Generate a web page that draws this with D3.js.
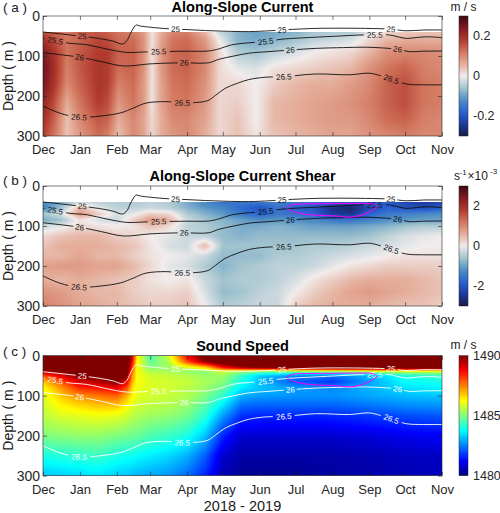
<!DOCTYPE html>
<html>
<head>
<meta charset="utf-8">
<script src="https://cdn.jsdelivr.net/npm/d3@7"></script>
<style>
  body { margin: 0; background: #fff; }
  svg text { font-family: "Liberation Sans", Arial, Helvetica, sans-serif; fill: #1a1a1a; }
</style>
</head>
<body>
<div id="chart"></div>
<script>
const W = 500, H = 513;
const left = 43, right = 442, plotH = 120;

// ---- data ----
const monthLabels = ["Dec", "Jan", "Feb", "Mar", "Apr", "May", "Jun", "Jul", "Aug", "Sep", "Oct", "Nov"];
const depthTicks = [0, 100, 200, 300];
// times are month numbers counted from 1 Dec 2018
const currentTimes = [0, 0.3, 0.65, 1, 1.5, 1.75, 2.05, 2.5, 2.8, 3.05, 3.3, 3.6, 4, 4.5, 4.9, 5.4, 5.9, 6.4, 7, 7.5, 8, 8.5, 9, 9.5, 10, 10.5, 11];
const currentDepths = [40, 60, 90, 130, 170, 220, 260, 300];
// one depth profile (m/s) per time
const currentCols = [
  [0.16, 0.20, 0.24, 0.26, 0.25, 0.22, 0.20, 0.18],
  [0.14, 0.16, 0.19, 0.20, 0.19, 0.16, 0.14, 0.12],
  [0.11, 0.12, 0.12, 0.11, 0.10, 0.06, 0.04, 0.04],
  [0.14, 0.14, 0.15, 0.15, 0.14, 0.12, 0.10, 0.08],
  [0.15, 0.17, 0.18, 0.19, 0.19, 0.18, 0.15, 0.13],
  [0.14, 0.16, 0.18, 0.18, 0.18, 0.16, 0.14, 0.11],
  [0.12, 0.13, 0.14, 0.13, 0.11, 0.08, 0.06, 0.04],
  [0.11, 0.13, 0.14, 0.14, 0.13, 0.12, 0.10, 0.10],
  [0.08, 0.09, 0.09, 0.09, 0.08, 0.08, 0.07, 0.07],
  [0.01, 0.01, 0.01, 0.01, 0.01, 0.01, 0.02, 0.02],
  [0.06, 0.07, 0.08, 0.08, 0.07, 0.07, 0.06, 0.06],
  [0.10, 0.12, 0.13, 0.13, 0.12, 0.11, 0.10, 0.08],
  [0.11, 0.13, 0.14, 0.14, 0.13, 0.12, 0.10, 0.10],
  [0.05, 0.08, 0.10, 0.10, 0.09, 0.08, 0.07, 0.06],
  [-0.03, 0.00, 0.02, 0.02, 0.02, 0.02, 0.02, 0.02],
  [-0.08, -0.08, -0.05, -0.01, 0.02, 0.03, 0.04, 0.04],
  [-0.10, -0.09, -0.06, -0.02, 0.00, 0.00, 0.00, 0.01],
  [-0.09, -0.08, -0.04, 0.01, 0.03, 0.05, 0.05, 0.04],
  [-0.08, -0.06, -0.02, 0.02, 0.05, 0.06, 0.06, 0.05],
  [-0.06, -0.04, 0.00, 0.03, 0.06, 0.07, 0.07, 0.06],
  [-0.05, -0.03, 0.01, 0.04, 0.06, 0.08, 0.08, 0.07],
  [-0.05, -0.02, 0.02, 0.05, 0.08, 0.09, 0.08, 0.07],
  [-0.02, 0.02, 0.05, 0.09, 0.10, 0.11, 0.10, 0.09],
  [0.02, 0.05, 0.09, 0.12, 0.14, 0.14, 0.13, 0.10],
  [0.03, 0.06, 0.10, 0.14, 0.16, 0.16, 0.14, 0.11],
  [0.04, 0.06, 0.10, 0.11, 0.12, 0.12, 0.11, 0.10],
  [0.04, 0.06, 0.09, 0.10, 0.11, 0.11, 0.10, 0.10]
];

const shearTimes = [0, 0.5, 1, 1.5, 2, 2.5, 3, 3.5, 4, 4.5, 5, 5.5, 6, 6.5, 7, 7.5, 8, 8.5, 9, 9.5, 10, 10.5, 11];
const shearDepths = [40, 55, 70, 85, 100, 125, 150, 175, 200, 235, 265, 300];
// one profile (x 10^-3 s^-1) per time
const shearCols = [
  [-1.2, -1.4, -0.6, -0.9, -0.3, 0.2, 0.4, 0.5, 0.7, 0.6, 0.9, 1.1],
  [-0.8, -0.6, -0.2, -0.6, -0.1, 0.4, 0.6, 0.5, 0.8, 0.5, 0.8, 0.9],
  [-0.3, 0.5, 0.8, 0.1, 0.2, 0.5, 0.6, 0.7, 0.8, 0.6, 0.6, 0.7],
  [-0.4, -0.1, 0.3, -0.2, 0.1, 0.5, 0.6, 0.5, 0.7, 0.5, 0.5, 0.6],
  [-0.5, -0.4, -0.2, -0.3, 0.0, 0.3, 0.5, 0.5, 0.7, 0.4, 0.5, 0.5],
  [-0.5, -0.4, -0.1, 0.3, 0.1, 0.2, 0.4, 0.3, 0.5, 0.3, 0.3, 0.4],
  [-0.4, -0.3, 0.3, 0.8, 0.4, 0.0, 0.1, 0.1, 0.2, 0.1, 0.2, 0.3],
  [-0.5, -0.4, 0.2, 0.6, 0.2, -0.1, -0.2, 0.0, -0.1, 0.0, 0.2, 0.3],
  [-0.9, -0.8, -0.5, -0.3, -0.4, -0.3, -0.3, -0.1, -0.2, 0.1, 0.3, 0.4],
  [-1.3, -1.1, -0.8, -0.6, -0.5, -0.4, 0.5, -0.3, -0.5, -0.3, -0.2, 0.0],
  [-1.6, -1.3, -1.1, -0.8, -0.7, -0.7, -0.6, -0.7, -0.8, -0.6, -0.7, -0.5],
  [-1.5, -1.7, -1.5, -1.0, -0.9, -0.8, -0.6, -0.7, -0.6, -0.5, -0.6, -0.4],
  [-1.5, -2.0, -1.8, -1.2, -0.9, -0.7, -0.6, -0.7, -0.5, -0.5, -0.4, -0.3],
  [-1.4, -1.6, -1.5, -1.1, -0.8, -0.7, -0.6, -0.5, -0.4, -0.4, -0.3, -0.3],
  [-1.5, -1.8, -1.6, -1.2, -0.9, -0.7, -0.6, -0.5, -0.4, -0.2, 0.0, 0.3],
  [-1.6, -2.0, -1.8, -1.3, -1.0, -0.7, -0.5, -0.4, -0.3, 0.1, 0.3, 0.5],
  [-1.8, -2.6, -2.4, -1.5, -1.0, -0.7, -0.5, -0.3, -0.1, 0.3, 0.5, 0.6],
  [-1.9, -2.8, -2.5, -1.6, -1.0, -0.7, -0.4, -0.2, 0.1, 0.5, 0.7, 0.6],
  [-1.8, -2.2, -1.8, -1.4, -0.9, -0.6, -0.3, -0.1, 0.2, 0.6, 0.8, 0.6],
  [-1.9, -1.8, -1.5, -1.2, -0.8, -0.4, -0.2, 0.0, 0.3, 0.6, 0.7, 0.5],
  [-2.2, -2.0, -1.4, -1.1, -0.6, -0.2, -0.1, 0.1, 0.3, 0.6, 0.6, 0.4],
  [-2.4, -2.1, -1.3, -1.0, -0.5, -0.1, 0.0, 0.1, 0.3, 0.5, 0.5, 0.4],
  [-2.2, -1.9, -1.2, -1.0, -0.5, 0.0, 0.0, 0.1, 0.3, 0.4, 0.4, 0.3]
];

const soundTimes = [0, 0.5, 1, 1.5, 2, 2.3, 2.45, 2.6, 3, 3.5, 4, 4.5, 5, 5.5, 6, 7, 8, 9, 10, 11];
const soundDepths = [0, 15, 30, 40, 50, 65, 80, 100, 125, 150, 200, 250, 300];
// one profile (m/s) per time
const soundCols = [
  [1491, 1491, 1490.5, 1489.5, 1488, 1486.8, 1486.2, 1485.9, 1485.8, 1485.6, 1485.0, 1484.0, 1483.2],
  [1491, 1491, 1490.8, 1490, 1489, 1488, 1487.3, 1486.8, 1486.3, 1485.9, 1485.1, 1484.1, 1483.3],
  [1491, 1491, 1491, 1490.5, 1490, 1489.2, 1488.4, 1487.4, 1486.6, 1486, 1485.2, 1484.2, 1483.4],
  [1491, 1491, 1491, 1490.8, 1490.2, 1489.5, 1488.6, 1487.6, 1486.8, 1486.1, 1485.2, 1484.3, 1483.5],
  [1491, 1491, 1491, 1491, 1490.8, 1490, 1489, 1487.8, 1486.8, 1486, 1485, 1484, 1483.3],
  [1491, 1491, 1490.8, 1490.5, 1490, 1489, 1488, 1487, 1486.3, 1485.8, 1484.9, 1483.9, 1483.2],
  [1489.5, 1489, 1488.3, 1487.8, 1487.5, 1487.1, 1486.7, 1486.4, 1486, 1485.6, 1484.8, 1483.9, 1483.1],
  [1486.5, 1486.3, 1486.2, 1486.2, 1486.2, 1486.2, 1486.1, 1486, 1485.8, 1485.5, 1484.8, 1483.8, 1483],
  [1484.5, 1484.7, 1485.1, 1485.5, 1485.8, 1485.9, 1485.9, 1485.8, 1485.6, 1485.3, 1484.5, 1483.6, 1482.9],
  [1485.8, 1485.5, 1485.3, 1485.4, 1485.7, 1485.8, 1485.8, 1485.7, 1485.5, 1485.2, 1484.3, 1483.4, 1482.7],
  [1488.8, 1488, 1485.8, 1485.2, 1485.5, 1485.7, 1485.6, 1485.5, 1485.2, 1484.9, 1484, 1483, 1482.3],
  [1490.5, 1489.8, 1486.5, 1485, 1485.3, 1485.4, 1485.3, 1485, 1484.6, 1484.2, 1483.2, 1482.2, 1481.6],
  [1491, 1491, 1488.5, 1485.8, 1485.3, 1485.1, 1484.8, 1484.2, 1483.5, 1482.8, 1481.6, 1480.8, 1480.5],
  [1491, 1491, 1489.5, 1485.2, 1484.3, 1484, 1483.6, 1483, 1482.3, 1481.7, 1480.8, 1480.4, 1480.2],
  [1491, 1491, 1490, 1484.8, 1483.3, 1483.1, 1483.2, 1482.8, 1482.2, 1481.6, 1480.8, 1480.4, 1480.2],
  [1491, 1491, 1490.3, 1484.8, 1482.6, 1482.1, 1482.8, 1482.7, 1482.2, 1481.6, 1480.8, 1480.4, 1480.2],
  [1491, 1491, 1490.5, 1485, 1482.4, 1481.8, 1482.6, 1482.7, 1482.2, 1481.6, 1480.8, 1480.4, 1480.3],
  [1491, 1491, 1490.5, 1485.3, 1483.1, 1482.8, 1483, 1482.9, 1482.4, 1481.8, 1480.9, 1480.5, 1480.4],
  [1491, 1491, 1490.5, 1485.6, 1484, 1483.8, 1483.5, 1483.1, 1482.6, 1482, 1481.1, 1480.6, 1480.5],
  [1491, 1491, 1490.5, 1485.6, 1484.3, 1484, 1483.7, 1483.2, 1482.7, 1482.1, 1481.2, 1480.7, 1480.6]
];

// isopycnal depths [month, depth m]
const iso25 = [[0,40],[0.5,45],[1,50],[1.5,56],[1.9,63],[2.17,70],[2.3,62],[2.4,45],[2.5,30],[2.58,22.5],[2.7,25],[3,28],[3.5,32],[4,34],[4.7,37],[5.7,39],[6.26,37],[6.6,35],[7.55,31],[8.9,31],[9.6,33],[10.03,37],[10.5,35],[11,35]];
const iso255 = [[0,56],[0.35,62],[0.7,68],[1.2,72],[1.7,82],[2.3,91],[2.8,90],[3.2,89],[4,88],[4.6,87.5],[4.9,82],[5.24,72],[5.7,67],[6.17,64],[6.62,58],[7.54,53],[8.2,50],[8.74,47.5],[9.15,47.5],[9.57,47.5],[9.8,52],[10.03,56],[10.3,54],[10.58,52],[11,54]];
const iso26 = [[0,92],[0.5,97],[0.99,103],[1.58,114],[2.2,125],[2.94,120],[3.4,118],[3.92,117],[4.6,117],[4.9,108],[5.3,100],[5.7,93],[6.26,89],[6.86,85],[7.54,81],[8.3,79],[8.9,78],[9.4,80],[9.79,83],[10.1,89],[10.5,88],[11,87.5]];
const iso265 = [[0,225],[0.46,243],[0.97,253],[1.57,250],[2.12,242],[2.5,230],[2.86,218],[3.41,214],[3.87,217],[4.56,212],[4.8,198],[5.06,181],[5.4,168],[5.7,159],[6.17,153],[6.67,152],[7.54,145],[8.46,147],[9.0,143],[9.3,149],[9.61,158],[10.03,170],[10.5,172],[11,172]];
const densityLevels = [25, 25.5, 26, 26.5];
const labelMonths = [[1.07, 3.69, 6.62, 9.61], [0.33, 3.23, 6.17, 9.15], [0.99, 3.92, 6.86, 9.79], [0.97, 3.87, 6.67, 9.61]];
// closed magenta contour (strong shear core)
const shearCore = [[6.76,54],[6.9,47],[7.4,44.5],[8,44],[8.7,43.5],[9.1,45],[9.2,52],[9.05,62],[8.75,74],[8.45,78],[8.1,75],[7.4,72],[6.95,64]];

// ---- helpers ----
const start = new Date(Date.UTC(2018, 11, 1));
const end = new Date(Date.UTC(2019, 10, 1));
function monthToDate(t) {
  const m = Math.floor(t);
  const a = d3.utcMonth.offset(start, m), b = d3.utcMonth.offset(start, m + 1);
  return new Date(+a + (t - m) * (b - a));
}
function dateToMonth(d) {
  const a = d3.utcMonth.floor(d);
  const m = d3.utcMonth.count(start, a);
  const b = d3.utcMonth.offset(a, 1);
  return m + (d - a) / (b - a);
}
function sampler(times, depths, cols) {
  return (t, d) => {
    let i = Math.max(0, Math.min(times.length - 2, d3.bisectRight(times, t) - 1));
    let j = Math.max(0, Math.min(depths.length - 2, d3.bisectRight(depths, d) - 1));
    const ft = Math.max(0, Math.min(1, (t - times[i]) / (times[i + 1] - times[i])));
    const fd = Math.max(0, Math.min(1, (d - depths[j]) / (depths[j + 1] - depths[j])));
    const a = cols[i][j] * (1 - fd) + cols[i][j + 1] * fd;
    const b = cols[i + 1][j] * (1 - fd) + cols[i + 1][j + 1] * fd;
    return a * (1 - ft) + b * ft;
  };
}

const balanceColors = ["#181c43", "#1c3a9c", "#2a62d0", "#4f8fc4", "#a3c4cf", "#f1ecec", "#e4ad9a", "#d2765e", "#b23b2e", "#801a22", "#3c0912"];
function balance(lo, hi) {
  return d3.scaleLinear().domain(d3.range(11).map(i => lo + (hi - lo) * i / 10)).range(balanceColors).clamp(true);
}
function jet(lo, hi) {
  const f = [0, 0.125, 0.375, 0.625, 0.875, 1];
  return d3.scaleLinear().domain(f.map(v => lo + (hi - lo) * v))
    .range(["#000080", "#0000ff", "#00ffff", "#ffff00", "#ff0000", "#800000"]).clamp(true);
}

const svg = d3.select("#chart").append("svg").attr("width", W).attr("height", H);
const x = d3.scaleUtc().domain([start, end]).range([left, right]);
const monthDates = d3.range(12).map(i => d3.utcMonth.offset(start, i));

const panels = [
  { key: "a", top: 16, title: "Along-Slope Current", times: currentTimes, depths: currentDepths, cols: currentCols,
    color: balance(-0.3, 0.3), cticks: [-0.2, 0, 0.2], cdom: [-0.3, 0.3], lineColor: "#111", core: false, lab: 12 },
  { key: "b", top: 186, title: "Along-Slope Current Shear", times: shearTimes, depths: shearDepths, cols: shearCols,
    color: balance(-3, 3), cticks: [-2, 0, 2], cdom: [-3, 3], lineColor: "#111", core: true, lab: 185 },
  { key: "c", top: 355.7, title: "Sound Speed", times: soundTimes, depths: soundDepths, cols: soundCols,
    color: jet(1480, 1490), cticks: [1480, 1485, 1490], cdom: [1480, 1490], lineColor: "#fff", core: true, lab: 356 }
];
const isopycnals = [iso25, iso255, iso26, iso265];
const axisCol = "#262626";

panels.forEach(p => {
  const y = d3.scaleLinear().domain([0, 300]).range([p.top, p.top + plotH]);
  const g = svg.append("g");

  // heat map drawn pixel by pixel from the grid
  const cw = right - left, ch = plotH;
  const canvas = document.createElement("canvas");
  canvas.width = cw; canvas.height = ch;
  const ctx = canvas.getContext("2d");
  const img = ctx.createImageData(cw, ch);
  const f = sampler(p.times, p.depths, p.cols);
  const tcol = d3.range(cw).map(px => dateToMonth(x.invert(left + px + 0.5)));
  for (let py = 0; py < ch; py++) {
    const d = y.invert(p.top + py + 0.5);
    if (d < p.depths[0] - 0.5) continue;
    for (let px = 0; px < cw; px++) {
      const c = d3.rgb(p.color(f(tcol[px], d)));
      const k = (py * cw + px) * 4;
      img.data[k] = c.r; img.data[k + 1] = c.g; img.data[k + 2] = c.b; img.data[k + 3] = 255;
    }
  }
  ctx.putImageData(img, 0, 0);
  g.append("image").attr("href", canvas.toDataURL()).attr("x", left).attr("y", p.top)
    .attr("width", cw).attr("height", ch).attr("preserveAspectRatio", "none");

  // contours with gaps for labels
  const line = d3.line().x(q => x(monthToDate(q[0]))).y(q => y(q[1])).curve(d3.curveCatmullRom.alpha(0.5));
  const maskId = "mask-" + p.key;
  const mask = svg.append("defs").append("mask").attr("id", maskId).attr("maskUnits", "userSpaceOnUse")
    .attr("x", 0).attr("y", 0).attr("width", W).attr("height", H);
  mask.append("rect").attr("width", W).attr("height", H).attr("fill", "white");
  const lines = g.append("g").attr("mask", `url(#${maskId})`);
  const labels = g.append("g");
  isopycnals.forEach((iso, li) => {
    const path = lines.append("path").attr("d", line(iso)).attr("fill", "none")
      .attr("stroke", p.lineColor).attr("stroke-width", 0.9);
    const node = path.node(), L = node.getTotalLength();
    labelMonths[li].forEach(t => {
      const tx = x(monthToDate(t));
      let best = 0, bd = 1e9;
      for (let s = 0; s <= L; s += 0.5) {
        const q = node.getPointAtLength(s);
        const dd = Math.abs(q.x - tx);
        if (dd < bd) { bd = dd; best = s; }
      }
      const q = node.getPointAtLength(best);
      const q1 = node.getPointAtLength(Math.max(0, best - 5)), q2 = node.getPointAtLength(Math.min(L, best + 5));
      const ang = Math.atan2(q2.y - q1.y, q2.x - q1.x) * 180 / Math.PI;
      const txt = String(densityLevels[li]);
      const tw = txt.length * 4.5 + 4;
      const tr = `translate(${q.x},${q.y}) rotate(${ang})`;
      mask.append("rect").attr("x", -tw / 2).attr("y", -4.5).attr("width", tw).attr("height", 9)
        .attr("fill", "black").attr("transform", tr);
      labels.append("text").attr("transform", tr).attr("text-anchor", "middle").attr("dy", "0.35em")
        .style("font-size", "8px").style("fill", p.lineColor).text(txt);
    });
  });
  if (p.core) {
    g.append("path").attr("d", d3.line().x(q => x(monthToDate(q[0]))).y(q => y(q[1])).curve(d3.curveCatmullRomClosed)(shearCore))
      .attr("fill", "none").attr("stroke", "#ff00ff").attr("stroke-width", 1);
  }

  // axes with inward ticks
  const xb = g.append("g").attr("transform", `translate(0,${p.top + plotH})`)
    .call(d3.axisBottom(x).tickValues(monthDates).tickFormat((d, i) => monthLabels[i]).tickSize(-4).tickPadding(9));
  const xt = g.append("g").attr("transform", `translate(0,${p.top})`)
    .call(d3.axisTop(x).tickValues(monthDates).tickFormat("").tickSize(-4));
  const yl = g.append("g").attr("transform", `translate(${left},0)`)
    .call(d3.axisLeft(y).tickValues(depthTicks).tickSize(-4).tickPadding(3));
  const yr = g.append("g").attr("transform", `translate(${right},0)`)
    .call(d3.axisRight(y).tickValues(depthTicks).tickFormat("").tickSize(-4));
  [xb, xt, yl, yr].forEach(a => {
    a.select(".domain").remove();
    a.selectAll("line").attr("stroke", axisCol).attr("stroke-width", 0.6);
    a.selectAll("text").style("font-size", "13px").style("fill", axisCol).attr("font-family", null);
  });
  yl.selectAll("text").style("font-size", "14px");
  g.append("rect").attr("x", left).attr("y", p.top).attr("width", right - left).attr("height", plotH)
    .attr("fill", "none").attr("stroke", axisCol).attr("stroke-width", 0.6);

  // titles and labels
  svg.append("text").attr("x", (left + right) / 2).attr("y", Math.max(11.5, p.top - 5.2)).attr("text-anchor", "middle")
    .style("font-size", "14.5px").style("font-weight", "bold").style("fill", "#000").text(p.title);
  svg.append("text").attr("x", 3).attr("y", p.lab).style("font-size", "13.5px").text(`( ${p.key} )`);
  svg.append("text").attr("transform", `translate(13,${p.top + plotH / 2}) rotate(-90)`).attr("text-anchor", "middle")
    .style("font-size", "14px").text("Depth ( m )");

  // colorbar
  const cb = svg.append("g");
  const cy = d3.scaleLinear().domain(p.cdom).range([p.top + plotH, p.top]);
  const gid = "grad-" + p.key;
  const grad = svg.append("defs").append("linearGradient").attr("id", gid)
    .attr("x1", 0).attr("y1", 1).attr("x2", 0).attr("y2", 0);
  d3.range(41).forEach(i => {
    const v = p.cdom[0] + (p.cdom[1] - p.cdom[0]) * i / 40;
    grad.append("stop").attr("offset", i / 40).attr("stop-color", p.color(v));
  });
  cb.append("rect").attr("x", 459).attr("y", p.top).attr("width", 9).attr("height", plotH)
    .attr("fill", `url(#${gid})`).attr("stroke", axisCol).attr("stroke-width", 0.5);
  cb.selectAll(".ct").data(p.cticks).join("text").attr("x", 473).attr("y", d => cy(d)).attr("dy", "0.35em")
    .style("font-size", "12.5px").style("fill", axisCol).text(d => String(d));
});

// colorbar units
svg.append("text").attr("x", 463.5).attr("y", 10.5).attr("text-anchor", "middle").style("font-size", "12px").text("m / s");
svg.append("text").attr("x", 463.5).attr("y", 349).attr("text-anchor", "middle").style("font-size", "12px").text("m / s");
const sl = svg.append("g").style("font-size", "12px");
sl.append("text").attr("x", 454).attr("y", 180).text("s");
sl.append("text").attr("x", 459.5).attr("y", 175).style("font-size", "8px").text("-1");
sl.append("text").attr("x", 467.5).attr("y", 180).text("×10");
sl.append("text").attr("x", 490).attr("y", 174).style("font-size", "8px").text("-3");

svg.append("text").attr("x", (left + right) / 2).attr("y", 511).attr("text-anchor", "middle")
  .style("font-size", "14.5px").text("2018 - 2019");
</script>
</body>
</html>
